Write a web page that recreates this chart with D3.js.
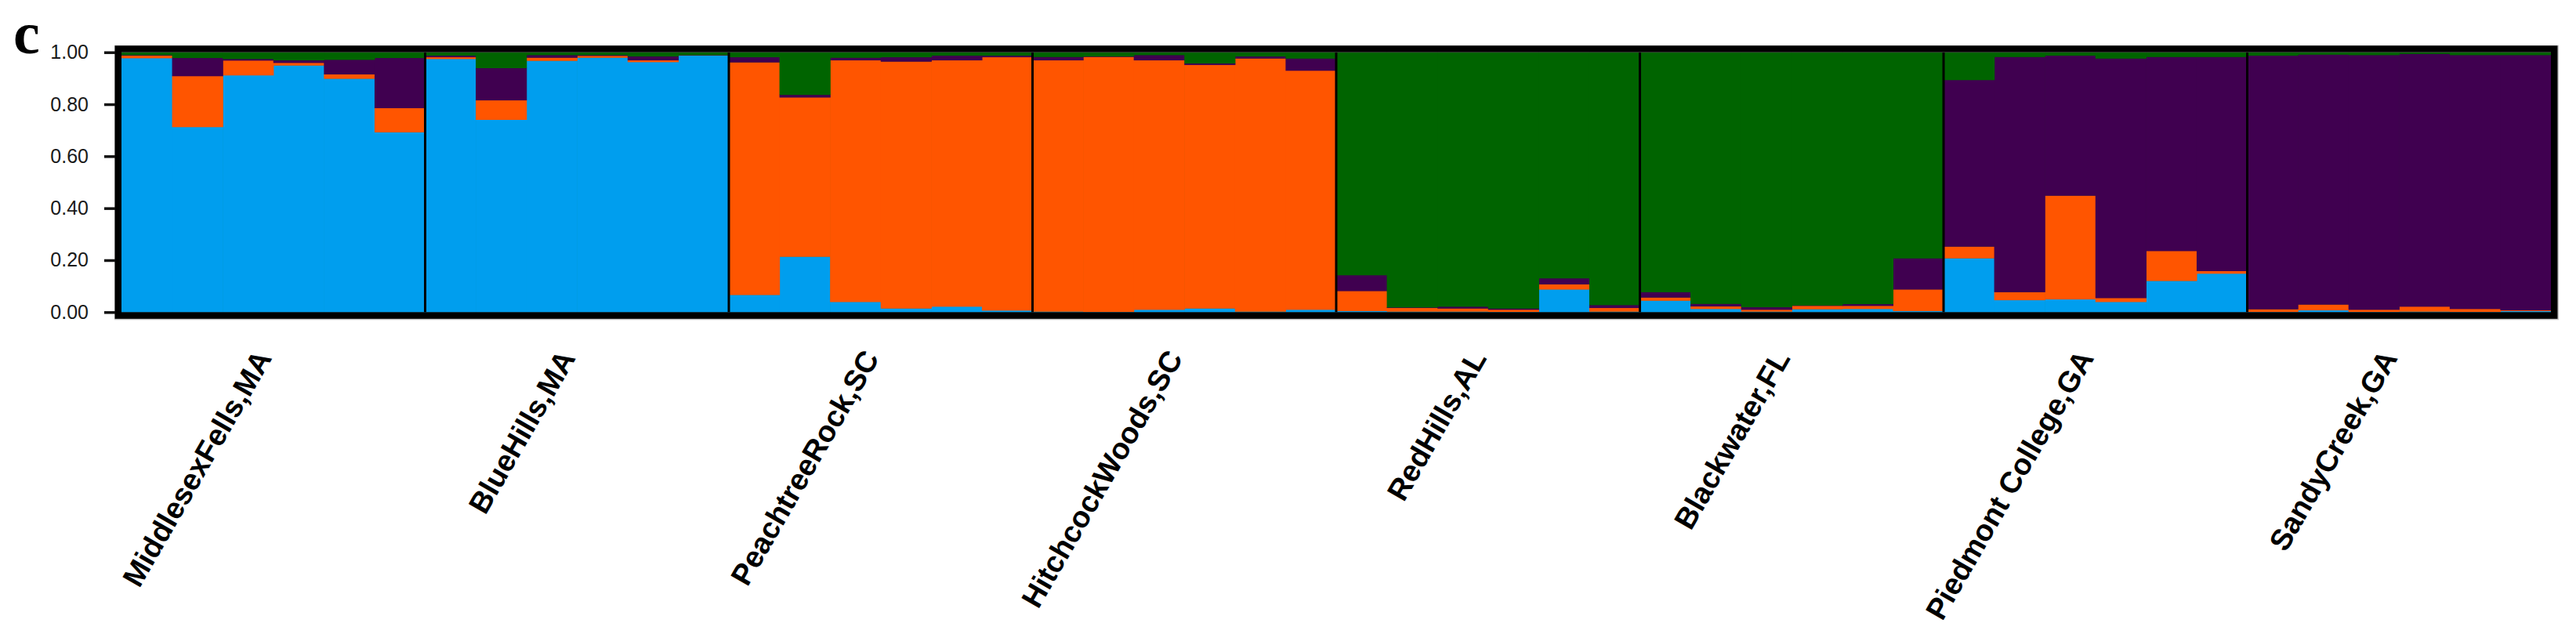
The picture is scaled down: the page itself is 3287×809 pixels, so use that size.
<!DOCTYPE html>
<html>
<head>
<meta charset="utf-8">
<script src="https://cdn.jsdelivr.net/npm/d3@7"></script>
<style>
  html, body { margin: 0; padding: 0; background: #fff; }
  svg { display: block; }
</style>
</head>
<body>
<script>
// ---------------- DATA ----------------
const populations = ["MiddlesexFells,MA", "BlueHills,MA", "PeachtreeRock,SC", "HitchcockWoods,SC",
                     "RedHills,AL", "Blackwater,FL", "Piedmont College,GA", "SandyCreek,GA"];
const perPopulation = 6;
const yTicks = [0, 0.2, 0.4, 0.6, 0.8, 1.0];

// Cluster membership (Q) per individual, 6 individuals per population, in population order
const clusterBlue = [
  .978, .713, .912, .950, .899, .693,
  .975, .741, .968, .980, .963, .988,
  .067, .214, .040, .015, .022, .007,
  .003, .002, .010, .015, .003, .010,
  .005, .003, .003, .002, .088, .003,
  .045, .013, .003, .012, .013, .005,
  .208, .047, .050, .040, .121, .149,
  .002, .008, .002, .003, .002, .005];
const clusterOrange = [
  .010, .196, .057, .010, .017, .093,
  .007, .075, .012, .007, .007, .001,
  .895, .613, .930, .950, .948, .975,
  .967, .981, .960, .937, .974, .920,
  .077, .014, .012, .008, .020, .014,
  .012, .010, .007, .013, .012, .083,
  .045, .031, .399, .015, .115, .010,
  .010, .022, .008, .019, .011, .003];
const clusterPurple = [
  .002, .070, .006, .010, .056, .193,
  .006, .124, .010, .003, .015, .001,
  .020, .010, .010, .017, .018, .006,
  .013, .002, .020, .006, .008, .047,
  .061, .002, .007, .005, .023, .011,
  .021, .010, .010, .002, .007, .120,
  .641, .905, .539, .922, .747, .824,
  .976, .962, .980, .973, .977, .982];
const clusterGreen = [
  .010, .021, .025, .030, .028, .021,
  .012, .060, .010, .010, .015, .010,
  .018, .163, .020, .018, .012, .012,
  .017, .015, .010, .042, .015, .023,
  .857, .981, .978, .985, .869, .972,
  .922, .967, .980, .973, .968, .792,
  .106, .017, .012, .023, .017, .017,
  .012, .008, .010, .005, .010, .010];

const clusterKeys = ["blue", "orange", "purple", "green"];
const clusterColors = ["#009EEE", "#FF5500", "#400050", "#006400"];

// ---------------- LAYOUT ----------------
const W = 3287, H = 809;
const plotLeft = 155, plotRight = 3255, plotTop = 66.7, plotBottom = 398.3;

const svg = d3.select("body").append("svg").attr("width", W).attr("height", H);

const individuals = clusterBlue.map((b, i) => ({
  id: i,
  pop: populations[Math.floor(i / perPopulation)],
  blue: clusterBlue[i], orange: clusterOrange[i], purple: clusterPurple[i], green: clusterGreen[i]
}));

const x = d3.scaleBand().domain(individuals.map(d => d.id)).range([plotLeft, plotRight]).padding(0);
const xPop = d3.scaleBand().domain(populations).range([plotLeft, plotRight]).padding(0);
const y = d3.scaleLinear().domain([0, 1]).range([plotBottom, plotTop]);
const color = d3.scaleOrdinal().domain(clusterKeys).range(clusterColors);

const stack = d3.stack().keys(clusterKeys).offset(d3.stackOffsetExpand);
const series = stack(individuals);

// background to fill any tiny gaps
svg.append("rect").attr("x", plotLeft).attr("y", plotTop)
  .attr("width", plotRight - plotLeft).attr("height", plotBottom - plotTop).attr("fill", "#006400");

svg.append("g").selectAll("g").data(series).join("g")
  .attr("fill", s => color(s.key))
  .selectAll("rect").data(s => s).join("rect")
  .attr("x", d => x(d.data.id))
  .attr("width", x.bandwidth() + 0.6)
  .attr("y", d => y(d[1]))
  .attr("height", d => Math.max(0, y(d[0]) - y(d[1]) + 0.4));

// population dividers
svg.append("g").selectAll("line").data(populations.slice(1)).join("line")
  .attr("x1", d => xPop(d)).attr("x2", d => xPop(d))
  .attr("y1", plotTop).attr("y2", plotBottom)
  .attr("stroke", "#000").attr("stroke-width", 3);

// soft shadow + thick frame
svg.append("rect")
  .attr("x", plotLeft - 4.5).attr("y", plotTop - 4.5)
  .attr("width", plotRight - plotLeft + 10).attr("height", plotBottom - plotTop + 10)
  .attr("fill", "none").attr("stroke", "#c8c8c8").attr("stroke-width", 9);
svg.append("rect")
  .attr("x", plotLeft - 4.25).attr("y", plotTop - 4.25)
  .attr("width", plotRight - plotLeft + 8.5).attr("height", plotBottom - plotTop + 8.5)
  .attr("fill", "none").attr("stroke", "#000").attr("stroke-width", 8.5);

// y axis
const yAxis = d3.axisLeft(y).tickValues(yTicks).tickFormat(d3.format(".2f")).tickSize(14).tickPadding(20);
const gy = svg.append("g").attr("transform", `translate(${plotLeft - 8},0)`).call(yAxis);
gy.select(".domain").remove();
gy.selectAll(".tick line").attr("stroke", "#111").attr("stroke-width", 3.5);
gy.selectAll(".tick text")
  .attr("font-family", "Liberation Sans, Arial, sans-serif")
  .attr("font-size", 25)
  .attr("fill", "#1a1a1a");

// population labels
svg.append("g").selectAll("text").data(populations).join("text")
  .attr("transform", d => `translate(${xPop(d) + xPop.bandwidth() / 2 - 1},457) rotate(-60)`)
  .attr("text-anchor", "end")
  .attr("font-family", "Liberation Sans, Arial, sans-serif")
  .attr("font-weight", "bold")
  .attr("font-size", 38)
  .attr("fill", "#000")
  .text(d => d);

// panel letter
svg.append("text")
  .attr("x", 17).attr("y", 68)
  .attr("font-family", "Liberation Serif, Times New Roman, serif")
  .attr("font-weight", "bold")
  .attr("font-size", 76)
  .text("c");
</script>
</body>
</html>
